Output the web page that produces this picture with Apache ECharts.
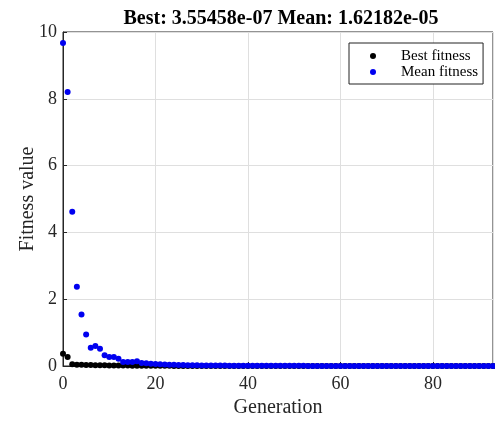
<!DOCTYPE html>
<html>
<head>
<meta charset="utf-8">
<script src="https://cdn.jsdelivr.net/npm/echarts@6/dist/echarts.min.js"></script>
<style>
  html, body { margin: 0; padding: 0; background: #fff; }
  #chart { width: 495px; height: 421px; }
</style>
</head>
<body>
<div id="chart"></div>
<script>
var titleText = 'Best: 3.55458e-07 Mean: 1.62182e-05';

// fitness per generation, generation 0 .. 93
var bestFitness = [
  0.37, 0.27, 0.05, 0.04, 0.035, 0.03, 0.028, 0.025, 0.022, 0.02,
  0.018, 0.016, 0.015, 0.014, 0.012, 0.011, 0.01, 0.009, 0.008, 0.007,
  0.006, 0.005, 0.004, 0.004, 0.003, 0.003, 0.002, 0.002, 0.002, 0.001,
  0.001, 0.001, 0.001, 0.001, 0.001, 0.001, 0.001, 0.001, 0.001, 0.001,
  0.001, 0.0005, 0.0005, 0.0005, 0.0005, 0.0005, 0.0005, 0.0005, 0.0005, 0.0005,
  0.0005, 0.0002, 0.0002, 0.0002, 0.0002, 0.0002, 0.0002, 0.0002, 0.0002, 0.0002,
  0.0002, 0.0001, 0.0001, 0.0001, 0.0001, 0.0001, 0.0001, 0.0001, 0.0001, 0.0001,
  0.0001, 0.00005, 0.00005, 0.00005, 0.00005, 0.00005, 0.00005, 0.00005, 0.00005, 0.00005,
  0.00005, 0.00002, 0.00002, 0.00002, 0.00002, 0.00002, 0.00002, 0.00002, 0.00002, 0.00002,
  0.00002, 0.00001, 0.00001, 0.00001
];

var meanFitness = [
  9.67, 8.20, 4.62, 2.37, 1.54, 0.94, 0.55, 0.60, 0.52, 0.32,
  0.27, 0.27, 0.22, 0.12, 0.12, 0.12, 0.14, 0.09, 0.08, 0.07,
  0.06, 0.05, 0.045, 0.04, 0.035, 0.03, 0.028, 0.025, 0.022, 0.02,
  0.018, 0.016, 0.015, 0.014, 0.013, 0.012, 0.011, 0.01, 0.009, 0.009,
  0.008, 0.008, 0.007, 0.007, 0.006, 0.006, 0.005, 0.005, 0.005, 0.004,
  0.004, 0.004, 0.004, 0.003, 0.003, 0.003, 0.003, 0.003, 0.002, 0.002,
  0.002, 0.002, 0.002, 0.002, 0.002, 0.002, 0.001, 0.001, 0.001, 0.001,
  0.001, 0.001, 0.001, 0.001, 0.001, 0.001, 0.001, 0.001, 0.001, 0.001,
  0.001, 0.001, 0.001, 0.001, 0.001, 0.001, 0.0005, 0.0005, 0.0005, 0.0005,
  0.0005, 0.0005, 0.0005, 0.0005
];

var serif = '"Liberation Serif", "Times New Roman", serif';
var axisColor = '#262626';

function toPoints(arr) {
  return arr.map(function (v, i) { return [i, v]; });
}

var chart = echarts.init(document.getElementById('chart'));

var option = {
  animation: false,
  backgroundColor: '#fff',
  title: {
    text: titleText,
    left: 276,
    textAlign: 'center',
    top: 4,
    textStyle: { fontFamily: serif, fontSize: 20, fontWeight: 'bold', color: '#000' }
  },
  grid: {
    left: 63, right: 2, top: 32, bottom: 55,
    outerBoundsMode: 'none',
    show: true, borderColor: axisColor, borderWidth: 1
  },
  legend: {
    orient: 'vertical',
    left: 349, top: 43,
    padding: [5, 5, 4, 21],
    itemGap: 0,
    itemWidth: 6, itemHeight: 6,
    icon: 'circle',
    borderColor: '#222', borderWidth: 1,
    backgroundColor: '#fff',
    textStyle: { fontFamily: serif, fontSize: 15, color: '#000', lineHeight: 16, padding: [0, 0, 0, 20] },
    data: ['Best fitness', 'Mean fitness']
  },
  xAxis: {
    type: 'value',
    min: 0, max: 93, interval: 20,
    name: 'Generation',
    nameLocation: 'middle',
    nameGap: 32,
    nameMoveOverlap: false,
    nameTextStyle: { fontFamily: serif, fontSize: 20, color: axisColor },
    axisLine: { lineStyle: { color: axisColor } },
    axisTick: { inside: true, length: 4, lineStyle: { color: axisColor } },
    axisLabel: { fontFamily: serif, fontSize: 18, color: axisColor, margin: 9, showMaxLabel: false },
    splitLine: { lineStyle: { color: '#dfdfdf' } }
  },
  yAxis: {
    type: 'value',
    min: 0, max: 10, interval: 2,
    name: 'Fitness value',
    nameLocation: 'middle',
    nameGap: 25,
    nameMoveOverlap: false,
    nameTextStyle: { fontFamily: serif, fontSize: 20, color: axisColor },
    axisLine: { show: true, lineStyle: { color: axisColor } },
    axisTick: { show: true, inside: true, length: 4, lineStyle: { color: axisColor } },
    axisLabel: { fontFamily: serif, fontSize: 18, color: axisColor, margin: 6 },
    splitLine: { lineStyle: { color: '#dfdfdf' } }
  },
  series: [
    {
      name: 'Best fitness',
      type: 'scatter',
      symbolSize: 6,
      itemStyle: { color: '#000', opacity: 1 },
      data: toPoints(bestFitness)
    },
    {
      name: 'Mean fitness',
      type: 'scatter',
      symbolSize: 6,
      itemStyle: { color: '#0000f0', opacity: 1 },
      data: toPoints(meanFitness)
    }
  ]
};

chart.setOption(option);
window.addEventListener('resize', function () {
  chart.resize();
});
</script>
</body>
</html>
